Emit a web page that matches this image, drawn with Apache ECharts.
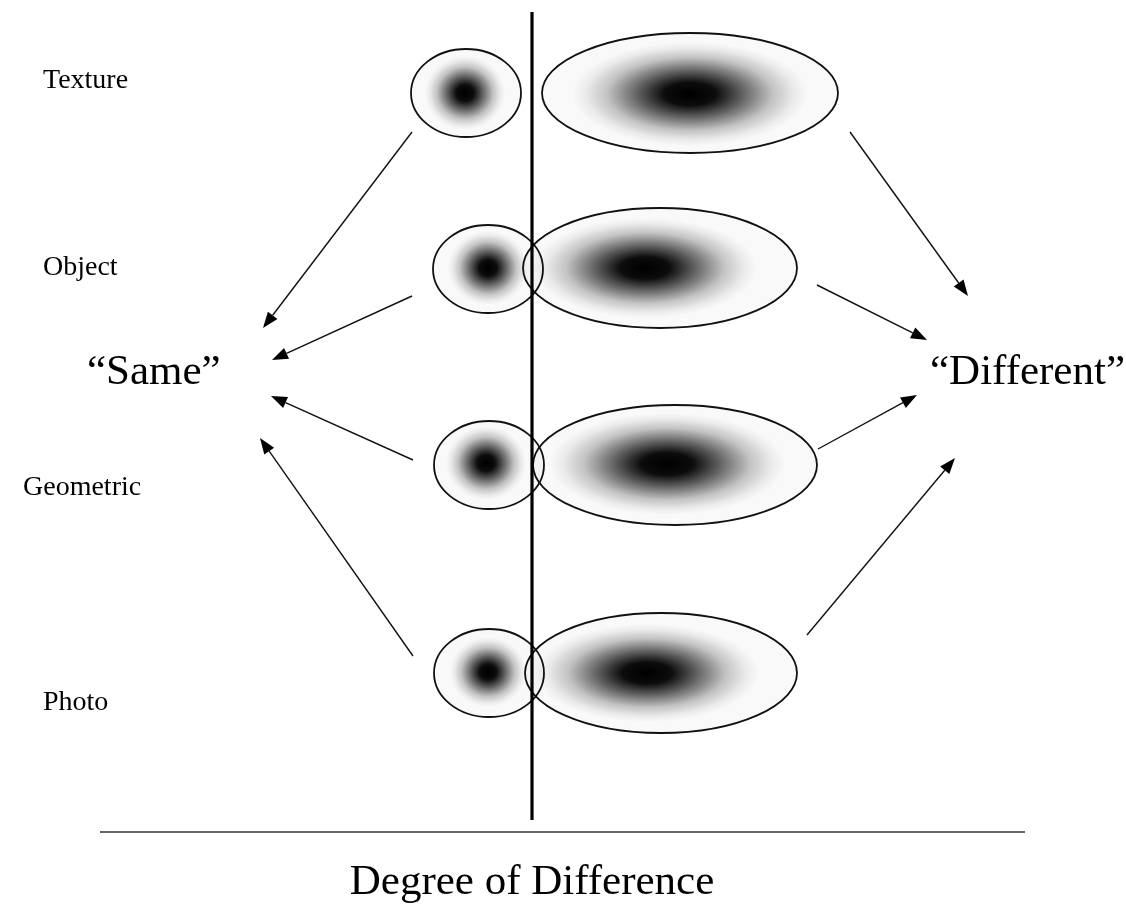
<!DOCTYPE html>
<html>
<head>
<meta charset="utf-8">
<script src="https://cdn.jsdelivr.net/npm/echarts@6/dist/echarts.min.js"></script>
<style>
  html, body { margin: 0; padding: 0; background: #fff; }
  #chart { width: 1126px; height: 910px; }
</style>
</head>
<body>
<div id="chart"></div>
<script>
// ---- Data (diagram space: x 0..1126, y 0..910 downward) ----
const categories = ['Texture', 'Object', 'Geometric', 'Photo'];
const categoryAnchor = [[43, 81], [43, 268], [23, 488], [43, 703]];
// [cx, cy, rx, ry]
const smallEllipse = [[466, 93, 55, 44], [488, 269, 55, 44], [489, 465, 55, 44], [489, 673, 55, 44]];
const bigEllipse   = [[690, 93, 148, 60], [660, 268, 137, 60], [675, 465, 142, 60], [661, 673, 136, 60]];
const smallBlob    = [[465, 93, 40, 37], [488, 268, 40, 37], [486, 463, 40, 37], [488, 672, 38, 35]];
const bigBlob      = [[690, 94, 118, 52], [645, 268, 112, 50], [667, 464, 118, 51], [647, 673, 112, 49]];
// [x1, y1, x2(tip), y2(tip)]
const sameArrows      = [[412, 132, 263, 328], [412, 296, 272, 360], [413, 460, 271, 396], [413, 656, 260, 438]];
const differentArrows = [[850, 132, 968, 296], [817, 285, 927, 340], [818, 449, 917, 395], [807, 635, 955, 458]];
const outcomeLabels = [['\u201CSame\u201D', 87, 373], ['\u201CDifferent\u201D', 930, 373]];
const dividerLine = [[532, 12, 532, 820]];
const baseLine = [[100, 832, 1025, 832]];
const axisTitle = [['Degree of Difference', 532, 883]];

const SERIF = '"Liberation Serif", "Times New Roman", "DejaVu Serif", serif';

const chart = echarts.init(document.getElementById('chart'), null, { renderer: 'canvas' });

function ellipsePath(cx, cy, rx, ry) {
  return 'M' + (cx - rx) + ',' + cy +
    ' A' + rx + ',' + ry + ' 0 1 0 ' + (cx + rx) + ',' + cy +
    ' A' + rx + ',' + ry + ' 0 1 0 ' + (cx - rx) + ',' + cy + ' Z';
}

function blobItem(params, api) {
  const c = api.coord([api.value(0), api.value(1)]);
  const s = api.size([api.value(2), api.value(3)]);
  return {
    type: 'circle',
    shape: { cx: 0, cy: 0, r: 1 },
    x: c[0], y: c[1], scaleX: s[0], scaleY: s[1],
    style: {
      fill: new echarts.graphic.RadialGradient(0.5, 0.5, 0.5, [
        { offset: 0, color: 'rgba(0,0,0,1)' },
        { offset: 0.22, color: 'rgba(0,0,0,0.95)' },
        { offset: 0.45, color: 'rgba(0,0,0,0.6)' },
        { offset: 0.7, color: 'rgba(0,0,0,0.22)' },
        { offset: 0.88, color: 'rgba(0,0,0,0.06)' },
        { offset: 1, color: 'rgba(0,0,0,0)' }
      ])
    }
  };
}

function ellipseItem(params, api) {
  const c = api.coord([api.value(0), api.value(1)]);
  const s = api.size([api.value(2), api.value(3)]);
  return {
    type: 'path',
    shape: { pathData: ellipsePath(c[0], c[1], s[0], s[1]) },
    style: { fill: 'rgba(0,0,0,0.025)', stroke: '#111', lineWidth: 1.8 }
  };
}

function arrowItem(params, api) {
  const p1 = api.coord([api.value(0), api.value(1)]);
  const p2 = api.coord([api.value(2), api.value(3)]);
  const dx = p2[0] - p1[0], dy = p2[1] - p1[1];
  const len = Math.sqrt(dx * dx + dy * dy);
  const ux = dx / len, uy = dy / len;
  const hl = 16, hw = 6;
  const bx = p2[0] - ux * hl, by = p2[1] - uy * hl;
  return {
    type: 'group',
    children: [
      { type: 'line', shape: { x1: p1[0], y1: p1[1], x2: bx, y2: by }, style: { stroke: '#111', lineWidth: 1.4 } },
      { type: 'polygon', shape: { points: [[p2[0], p2[1]], [bx - uy * hw, by + ux * hw], [bx + uy * hw, by - ux * hw]] }, style: { fill: '#000' } }
    ]
  };
}

function lineItem(width, color) {
  return function (params, api) {
    const p1 = api.coord([api.value(0), api.value(1)]);
    const p2 = api.coord([api.value(2), api.value(3)]);
    return { type: 'line', shape: { x1: p1[0], y1: p1[1], x2: p2[0], y2: p2[1] }, style: { stroke: color, lineWidth: width } };
  };
}

function textItem(size, align) {
  return function (params, api) {
    const d = params.dataIndex;
    const src = this;
    return null;
  };
}

const categoryData = categories.map((name, i) => [categoryAnchor[i][0], categoryAnchor[i][1], name]);

function makeText(arr, size, align) {
  return {
    type: 'custom',
    coordinateSystem: 'cartesian2d',
    silent: true,
    data: arr.map(r => [r[1], r[2], r[0]]),
    encode: { x: 0, y: 1 },
    renderItem: function (params, api) {
      const c = api.coord([api.value(0), api.value(1)]);
      return {
        type: 'text',
        x: c[0], y: c[1],
        style: {
          text: arr[params.dataIndex][0],
          fontFamily: SERIF, fontSize: size, fill: '#000',
          align: align, verticalAlign: 'middle'
        }
      };
    }
  };
}

const option = {
  animation: false,
  backgroundColor: '#fff',
  grid: { left: 0, right: 0, top: 0, bottom: 0 },
  xAxis: { type: 'value', min: 0, max: 1126, show: false },
  yAxis: { type: 'value', min: 0, max: 910, inverse: true, show: false },
  series: [
    { type: 'custom', silent: true, data: bigBlob, encode: { x: 0, y: 1 }, renderItem: blobItem },
    { type: 'custom', silent: true, data: smallBlob, encode: { x: 0, y: 1 }, renderItem: blobItem },
    { type: 'custom', silent: true, data: bigEllipse, encode: { x: 0, y: 1 }, renderItem: ellipseItem },
    { type: 'custom', silent: true, data: smallEllipse, encode: { x: 0, y: 1 }, renderItem: ellipseItem },
    { type: 'custom', silent: true, data: dividerLine, encode: { x: 0, y: 1 }, renderItem: lineItem(3.2, '#000') },
    { type: 'custom', silent: true, data: baseLine, encode: { x: 0, y: 1 }, renderItem: lineItem(1.5, '#333') },
    { type: 'custom', silent: true, data: sameArrows, encode: { x: 0, y: 1 }, renderItem: arrowItem },
    { type: 'custom', silent: true, data: differentArrows, encode: { x: 0, y: 1 }, renderItem: arrowItem },
    makeText(categoryData.map(r => [r[2], r[0], r[1]]), 28, 'left'),
    makeText(outcomeLabels, 43, 'left'),
    makeText(axisTitle, 43, 'center')
  ]
};
chart.setOption(option);
</script>
</body>
</html>
